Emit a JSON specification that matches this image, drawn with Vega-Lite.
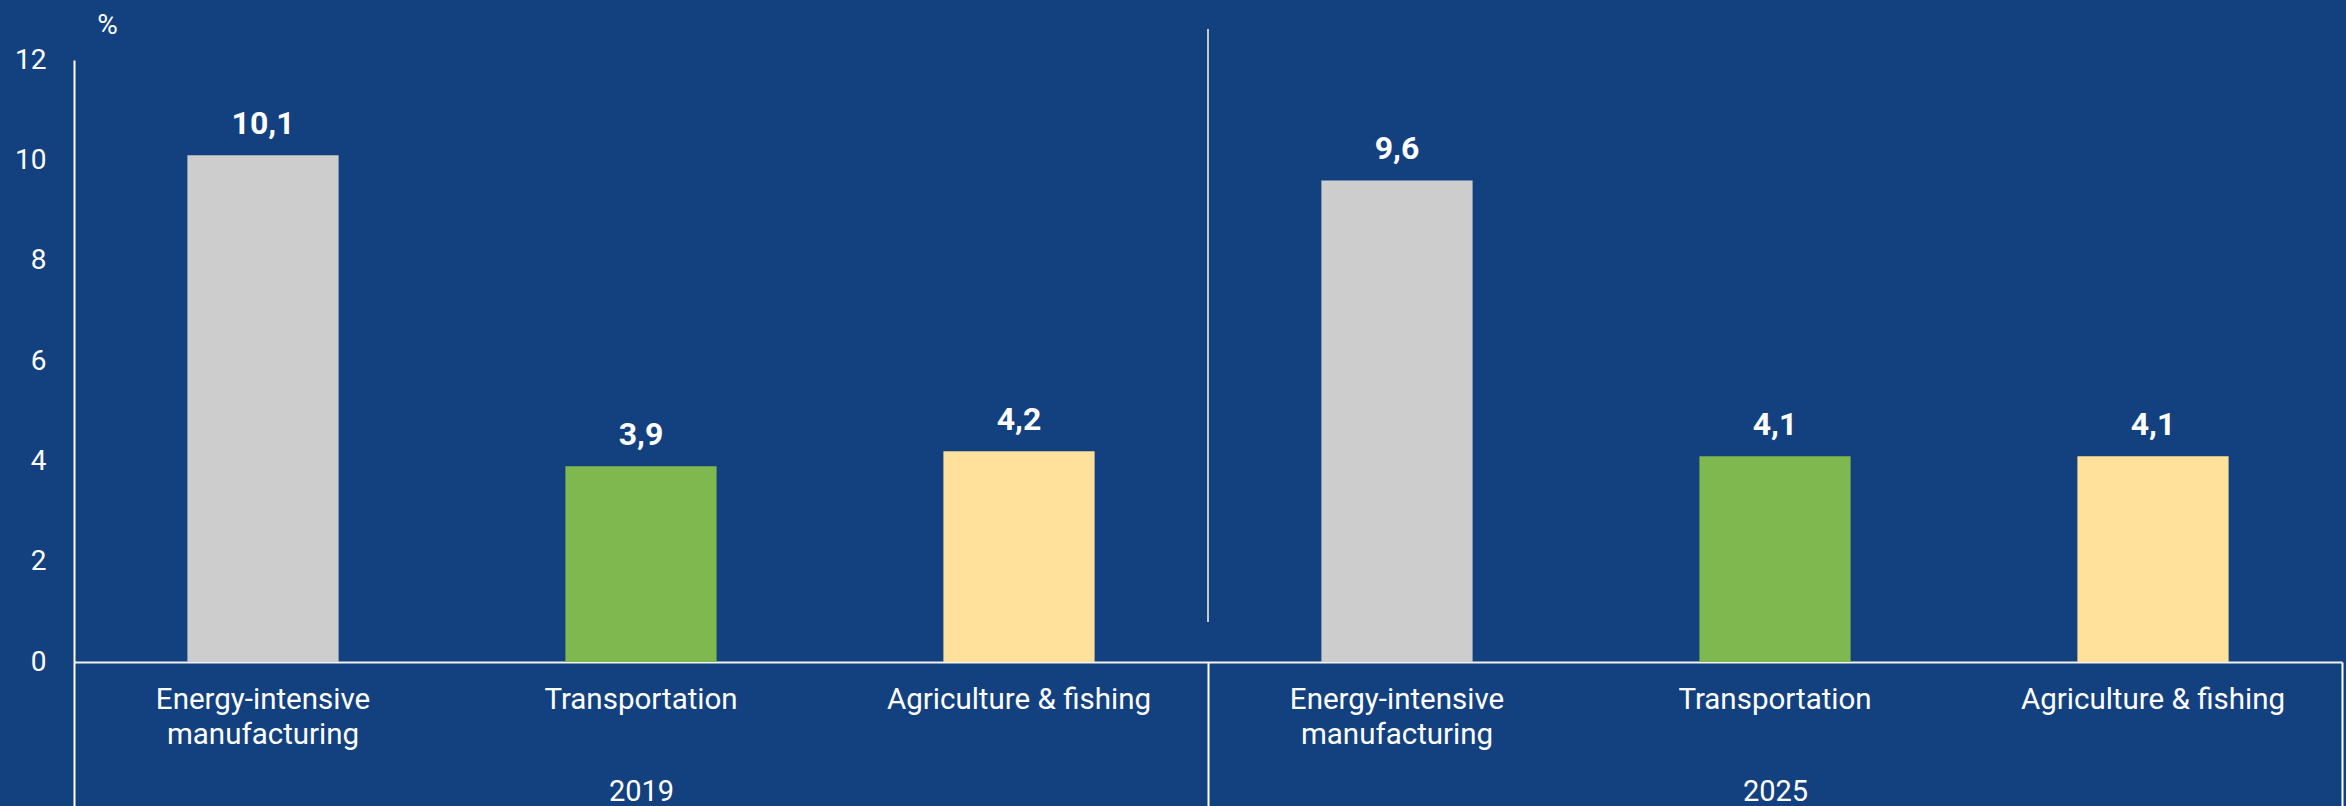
{
  "$schema": "https://vega.github.io/schema/vega-lite/v6.json",
  "width": 2268,
  "height": 602,
  "autosize": {"type": "none"},
  "padding": {"left": 74, "top": 60, "right": 4, "bottom": 144},
  "background": "#134180",
  "config": {
    "view": {"stroke": null},
    "font": "Roboto",
    "locale": {"number": {"decimal": ",", "thousands": " ", "grouping": [3], "currency": ["", " €"]}}
  },
  "data": {
    "values": [
      {"year": "2019", "category": "Energy-intensive manufacturing", "value": 10.1},
      {"year": "2019", "category": "Transportation", "value": 3.9},
      {"year": "2019", "category": "Agriculture & fishing", "value": 4.2},
      {"year": "2025", "category": "Energy-intensive manufacturing", "value": 9.6},
      {"year": "2025", "category": "Transportation", "value": 4.1},
      {"year": "2025", "category": "Agriculture & fishing", "value": 4.1}
    ]
  },
  "transform": [{"calculate": "datum.year + '|' + datum.category", "as": "key"}],
  "resolve": {"scale": {"x": "independent"}, "axis": {"x": "independent"}},
  "layer": [
    {
      "layer": [
        {
          "mark": {"type": "bar"},
          "encoding": {
            "x": {
              "field": "key",
              "type": "nominal",
              "sort": null,
              "scale": {"paddingInner": 0.6, "paddingOuter": 0.3},
              "axis": {
                "orient": "bottom",
                "title": null,
                "ticks": false,
                "domain": true,
                "domainColor": "#F2F2F2",
                "domainWidth": 2,
                "labelAngle": 0,
                "labelColor": "white",
                "labelFont": "Roboto",
                "labelFontSize": 29.5,
                "labelLimit": 0,
                "labelBaseline": "alphabetic",
                "labelPadding": 46,
                "labelLineHeight": 35,
                "labelExpr": "datum.label == '2019|Energy-intensive manufacturing' || datum.label == '2025|Energy-intensive manufacturing' ? ['Energy-intensive', 'manufacturing'] : slice(datum.label, 5)"
              }
            },
            "y": {
              "field": "value",
              "type": "quantitative",
              "scale": {"domain": [0, 12], "nice": false},
              "axis": {
                "title": "%",
                "titleAngle": 0,
                "titleX": 33,
                "titleY": -27,
                "titleAlign": "center",
                "titleBaseline": "alphabetic",
                "titleColor": "white",
                "titleFont": "Roboto",
                "titleFontSize": 28,
                "titleFontWeight": "normal",
                "values": [0, 2, 4, 6, 8, 10, 12],
                "grid": false,
                "ticks": false,
                "domain": true,
                "domainColor": "white",
                "domainWidth": 2,
                "labelColor": "white",
                "labelFont": "Roboto",
                "labelFontSize": 28,
                "labelPadding": 28
              }
            },
            "color": {
              "field": "category",
              "type": "nominal",
              "scale": {
                "domain": ["Energy-intensive manufacturing", "Transportation", "Agriculture & fishing"],
                "range": ["#CDCDCD", "#7EB84E", "#FFE19B"]
              },
              "legend": null
            }
          }
        },
        {
          "mark": {"type": "text", "baseline": "alphabetic", "dy": -21, "fontSize": 32, "fontWeight": "bold", "font": "Roboto", "color": "white"},
          "encoding": {
            "x": {"field": "key", "type": "nominal", "sort": null},
            "y": {"field": "value", "type": "quantitative"},
            "text": {"field": "value", "type": "quantitative", "format": ".1f"}
          }
        }
      ]
    },
    {
      "mark": {"type": "rule", "color": "#C8C8C8", "strokeWidth": 2},
      "encoding": {
        "x": {
          "datum": "2025",
          "type": "nominal",
          "bandPosition": 0,
          "scale": {"domain": ["2019", "2025"], "paddingInner": 0, "paddingOuter": 0},
          "axis": {
            "orient": "bottom",
            "title": null,
            "domain": false,
            "ticks": true,
            "tickBand": "extent",
            "tickColor": "white",
            "tickWidth": 2,
            "tickSize": 144,
            "labelAngle": 0,
            "labelColor": "white",
            "labelFont": "Roboto",
            "labelFontSize": 29,
            "labelBaseline": "alphabetic",
            "labelPadding": -6
          }
        },
        "y": {"datum": 12.62, "type": "quantitative"},
        "y2": {"datum": 0.8}
      }
    }
  ]
}
